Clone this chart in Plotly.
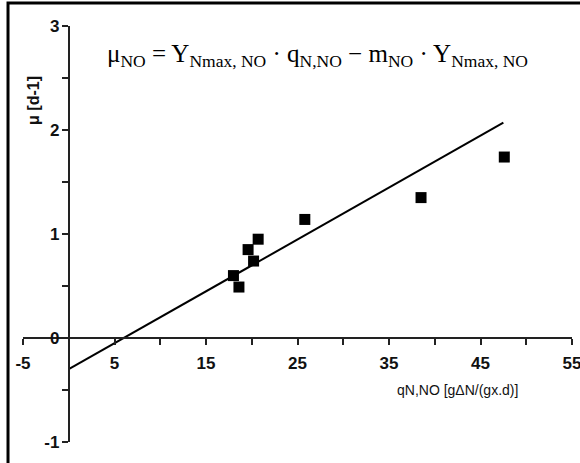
import plotly.graph_objects as go

# Data
q_vals = [18.0, 18.6, 19.6, 20.2, 20.7, 25.8, 38.5, 47.6]
mu_vals = [0.60, 0.49, 0.85, 0.74, 0.95, 1.14, 1.35, 1.74]
fit_x = [0.0, 47.5]
fit_y = [-0.30, 2.07]

x_tickvals = list(range(-5, 60, 5))
x_ticktext = [str(v) if (v + 5) % 10 == 0 else "" for v in x_tickvals]
y_tickvals = [-1, -0.5, 0, 0.5, 1, 1.5, 2, 2.5, 3]
y_ticktext = [str(int(v)) if float(v).is_integer() else "" for v in y_tickvals]

fig = go.Figure()
fig.add_trace(go.Scatter(x=fit_x, y=fit_y, mode="lines",
                         line=dict(color="black", width=2), showlegend=False))
fig.add_trace(go.Scatter(x=q_vals, y=mu_vals, mode="markers",
                         marker=dict(symbol="square", size=11, color="black"),
                         showlegend=False))

tickfont = dict(family="Arial, Liberation Sans", size=17, color="#111", weight="bold")
fig.update_layout(
    width=580, height=463,
    margin=dict(l=23, r=8, t=26, b=21),
    paper_bgcolor="white", plot_bgcolor="white",
    xaxis=dict(range=[-5, 55], anchor="free", position=0.25, automargin=False,
               showgrid=False, zeroline=False, showline=True,
               linecolor="#222", linewidth=2,
               ticks="outside", ticklen=6, tickwidth=2, tickcolor="#222",
               tickvals=x_tickvals, ticktext=x_ticktext,
               ticklabeloverflow="allow", ticklabelstandoff=4,
               tickfont=tickfont),
    yaxis=dict(range=[-1, 3], anchor="free", position=5 / 60, automargin=False,
               showgrid=False, zeroline=False, showline=True,
               linecolor="#222", linewidth=2,
               ticks="outside", ticklen=6, tickwidth=2, tickcolor="#222",
               tickvals=y_tickvals, ticktext=y_ticktext,
               ticklabeloverflow="allow", ticklabelstandoff=-1,
               tickfont=tickfont),
    annotations=[
        dict(xref="paper", yref="paper", x=0.018, y=0.822,
             xanchor="center", yanchor="middle",
             text="μ [d-1]", textangle=-90, showarrow=False,
             font=dict(family="Arial, Liberation Sans", size=16, color="#111", weight="bold")),
        dict(xref="paper", yref="paper", x=0.792, y=0.125,
             xanchor="center", yanchor="middle",
             text="qN,NO [gΔN/(gx.d)]", showarrow=False,
             font=dict(family="Arial, Liberation Sans", size=14, color="#111")),
        dict(xref="paper", yref="paper", x=0.537, y=0.930,
             xanchor="center", yanchor="middle",
             text="μ<sub>NO</sub> = Y<sub>Nmax, NO</sub> · q<sub>N,NO</sub> − m<sub>NO</sub> · Y<sub>Nmax, NO</sub>",
             showarrow=False,
             font=dict(family="Liberation Serif, Times New Roman", size=25, color="black")),
    ],
    shapes=[
        dict(type="path", xref="paper", yref="paper",
             path="M -0.0273 -0.08 L -0.0273 1.055 L 1.03 1.055",
             line=dict(color="black", width=3)),
    ],
)

fig.write_html("out.html")
